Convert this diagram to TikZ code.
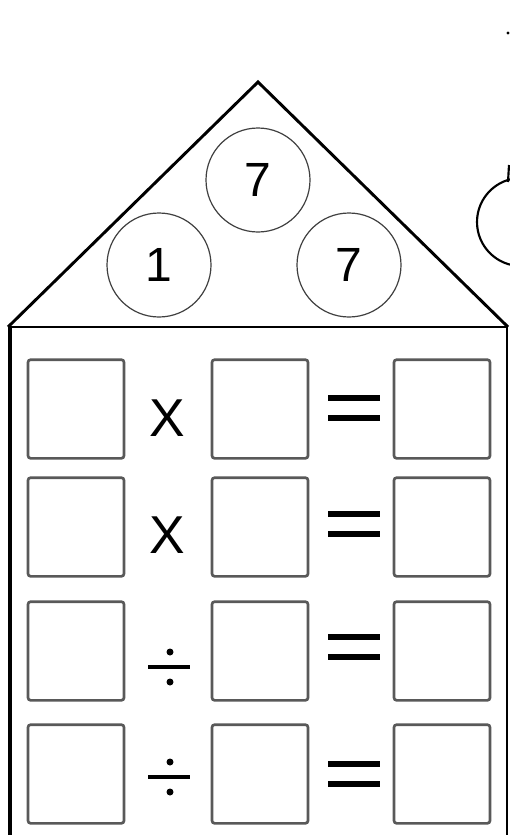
\documentclass[tikz,border=0pt]{standalone}
\usepackage{fontspec}
\setmainfont{Liberation Sans}
\begin{document}
\begin{tikzpicture}[x=0.75pt,y=-0.75pt,
  wall/.style={line width=2.2pt,line join=miter},
  numcirc/.style={circle,draw=black!75,line width=0.9pt,minimum size=78pt,inner sep=0pt,font=\fontsize{36}{36}\selectfont},
  ansbox/.style={draw=black!65,line width=2pt,rounded corners=2pt,minimum width=72pt,minimum height=74pt,inner sep=0pt},
  opx/.style={font=\fontsize{40}{40}\selectfont,inner sep=0pt},
  eqbar/.style={line width=4.5pt},
  divbar/.style={line width=2.8pt}]
\useasboundingbox (0,0) rectangle (510,835);
\fill[white] (0,0) rectangle (510,835);
% roof
\coordinate (apex) at (258,82);
\coordinate (rl) at (8,327);
\coordinate (rr) at (508,327);
\draw[wall] (rl) -- (apex) -- (rr);
% house
\coordinate (bl) at (10,836);
\coordinate (br) at (507,836);
\draw[line width=2.2pt] (rl) -- (rr);
\draw[line width=2.6pt] (10,327) -- (bl);
\draw[line width=1.1pt] (507,327) -- (br);
% circles
\node[numcirc] (c1) at (258,180) {7};
\node[numcirc] (c2) at (159,265) {1};
\node[numcirc] (c3) at (349,265) {7};
% partial shape on right edge
\begin{scope}
\clip (0,0) rectangle (510,835);
\draw[line width=1.6pt] (521,222) circle (44);
\draw[line width=1.6pt] (508,182) -- (509,165);
\fill (508,33) circle (1.6);
\end{scope}
% boxes
\foreach \r/\y in {1/409,2/527,3/651,4/774}{
  \node[ansbox] (a\r) at (76,\y) {};
  \node[ansbox] (b\r) at (260,\y) {};
  \node[ansbox] (c\r) at (442,\y) {};
}
% operators
\node[opx] (x1) at (167,418) {X};
\node[opx] (x2) at (167,535) {X};
\foreach \r/\y in {3/667,4/777}{
  \draw[divbar] (148,\y) -- (190,\y);
  \fill (170,\y-15) circle (3.5);
  \fill (170,\y+15) circle (3.5);
}
\foreach \y in {398,514,637,764}{
  \draw[eqbar] (328,\y) -- (380,\y);
  \draw[eqbar] (328,\y+20) -- (380,\y+20);
}
\end{tikzpicture}
\end{document}
